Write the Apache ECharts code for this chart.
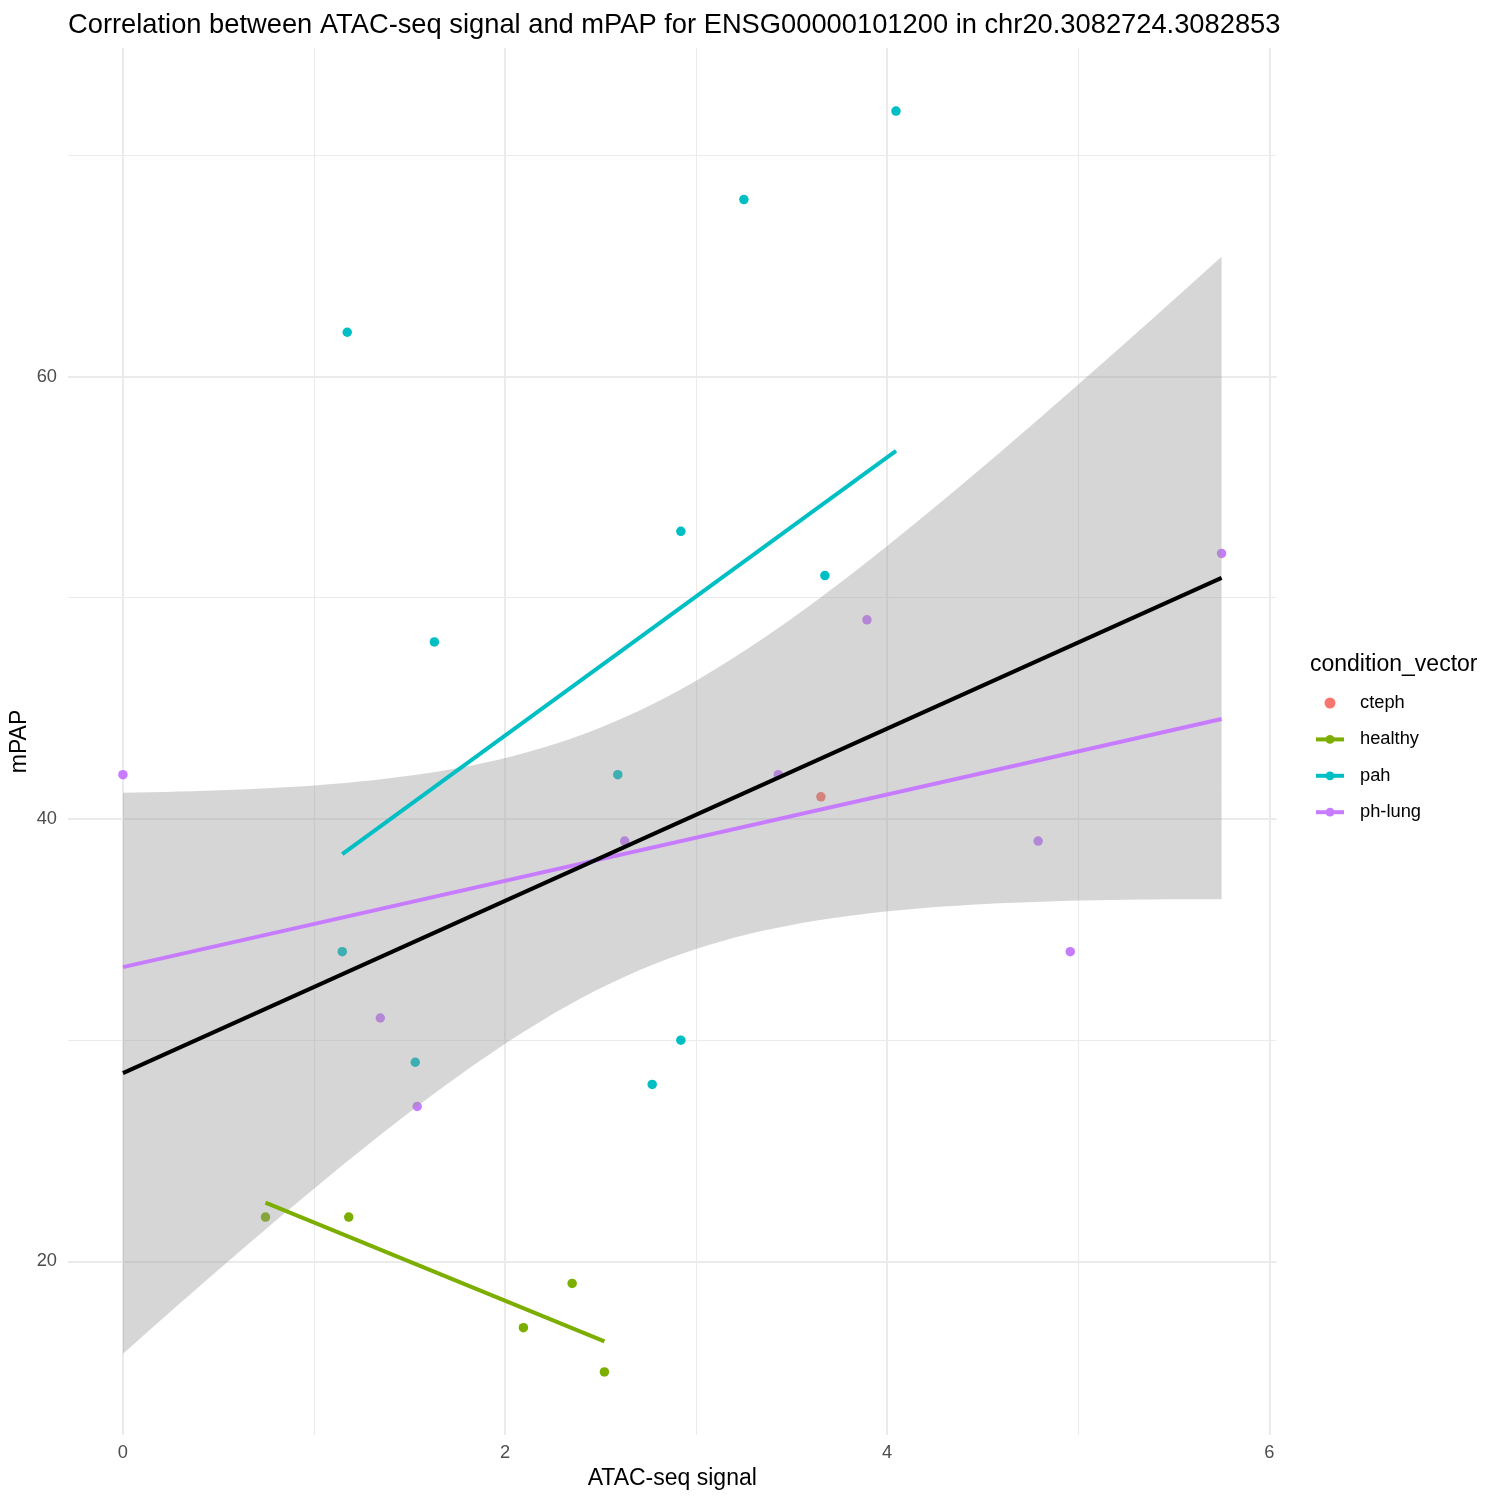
<!DOCTYPE html>
<html>
<head>
<meta charset="utf-8">
<script src="https://cdn.jsdelivr.net/npm/echarts@6/dist/echarts.min.js"></script>
<style>html,body{margin:0;padding:0;background:#fff}#c{width:1500px;height:1500px}</style>
</head>
<body>
<div id="c"></div>
<script>
// ---- data ----
const groupNames = ['cteph', 'healthy', 'pah', 'ph-lung'];
const groupColors = ['#F8766D', '#7CAE00', '#00BFC4', '#C77CFF'];

const ctephX = [3.653];
const ctephY = [41];

const healthyX = [0.746, 1.182, 2.096, 2.351, 2.520];
const healthyY = [22, 22, 17, 19, 15];

const pahX = [1.174, 1.630, 2.920, 3.250, 4.046, 3.674, 2.590, 1.148, 1.530, 2.920, 2.770];
const pahY = [62, 48, 53, 68, 72, 51, 42, 34, 29, 30, 28];

const phLungX = [0, 1.347, 1.540, 2.626, 3.430, 3.894, 4.790, 4.958, 5.750];
const phLungY = [42, 31, 27, 39, 42, 49, 39, 34, 52];

const xTicks = [0, 2, 4, 6];
const yTicks = [20, 40, 60];

const titleText = 'Correlation between ATAC-seq signal and mPAP for ENSG00000101200 in chr20.3082724.3082853';
const xTitle = 'ATAC-seq signal';
const yTitle = 'mPAP';
const legendTitle = 'condition_vector';

// ---- linear fits (geom_smooth(method = "lm")) ----
function fit(xs, ys) {
  const n = xs.length;
  const mx = xs.reduce((a, b) => a + b, 0) / n;
  const my = ys.reduce((a, b) => a + b, 0) / n;
  let sxx = 0, sxy = 0;
  for (let i = 0; i < n; i++) { sxx += (xs[i] - mx) ** 2; sxy += (xs[i] - mx) * (ys[i] - my); }
  const b = sxy / sxx, a = my - b * mx;
  let sse = 0;
  for (let i = 0; i < n; i++) sse += (ys[i] - a - b * xs[i]) ** 2;
  return { n, mx, sxx, a, b, s: Math.sqrt(sse / (n - 2)), min: Math.min(...xs), max: Math.max(...xs) };
}
function lineOf(f) { return [[f.min, f.a + f.b * f.min], [f.max, f.a + f.b * f.max]]; }

const groupX = [ctephX, healthyX, pahX, phLungX];
const groupY = [ctephY, healthyY, pahY, phLungY];
const allX = [].concat(...groupX);
const allY = [].concat(...groupY);
const overall = fit(allX, allY);
const tq = 2.063899; // qt(0.975, df = 24)
const band = [];
for (let i = 0; i < 80; i++) {
  const x = overall.min + (overall.max - overall.min) * i / 79;
  const yh = overall.a + overall.b * x;
  const se = overall.s * Math.sqrt(1 / overall.n + (x - overall.mx) ** 2 / overall.sxx);
  band.push([x, yh - tq * se, yh + tq * se]);
}

const FONT = '"Liberation Sans", Arial, sans-serif';
const xMin = -0.2875, xMax = 6.0375, yMin = 12.15, yMax = 74.85;

const series = [];
// line series first (legend icon = line + point)
for (let g = 1; g < 4; g++) {
  series.push({
    name: groupNames[g], type: 'line', z: 4, symbol: 'circle', symbolSize: 9.5, showSymbol: false, silent: true,
    data: lineOf(fit(groupX[g], groupY[g])),
    lineStyle: { color: groupColors[g], width: 4 }, itemStyle: { color: groupColors[g] },
    emphasis: { disabled: true }
  });
}
for (let g = 0; g < 4; g++) {
  series.push({
    name: groupNames[g], type: 'scatter', z: 2, symbol: 'circle', symbolSize: 9.5, silent: true,
    data: groupX[g].map((x, i) => [x, groupY[g][i]]),
    itemStyle: { color: groupColors[g], opacity: 1 }
  });
}
series.push({
  type: 'custom', z: 3, silent: true, data: band, encode: { x: 0, y: [1, 2] },
  renderItem: (params, api) => {
    if (params.dataIndex !== 0) return null;
    const pts = [];
    band.forEach(p => pts.push(api.coord([p[0], p[2]])));
    band.slice().reverse().forEach(p => pts.push(api.coord([p[0], p[1]])));
    return { type: 'polygon', shape: { points: pts }, style: { fill: 'rgba(153,153,153,0.4)' } };
  }
});
series.push({
  type: 'line', z: 5, showSymbol: false, symbol: 'none', silent: true,
  data: lineOf(overall), lineStyle: { color: '#000', width: 4 }
});

const chart = echarts.init(document.getElementById('c'), null, { renderer: 'canvas' });
chart.setOption({
  animation: false,
  backgroundColor: '#fff',
  textStyle: { fontFamily: FONT },
  title: [
    { text: titleText, left: 68, top: 12, padding: 0, textStyle: { fontSize: 27.3, fontWeight: 'normal', color: '#000', fontFamily: FONT } },
    { text: legendTitle, left: 1310, top: 653, padding: 0, textStyle: { fontSize: 23, fontWeight: 'normal', color: '#000', fontFamily: FONT } }
  ],
  legend: {
    data: groupNames, orient: 'vertical', left: 1314, top: 694, padding: 0,
    itemWidth: 28, itemHeight: 11, itemGap: 18.4,
    lineStyle: { width: 4 },
    textStyle: { fontSize: 18.3, color: '#000', fontFamily: FONT, padding: [0, 0, 0, 11] },
    selectedMode: false
  },
  grid: { left: 68, right: 223.5, top: 48, bottom: 65, containLabel: false, outerBoundsMode: 'none' },
  xAxis: [
    {
      type: 'value', min: xMin, max: xMax, splitNumber: 3,
      name: xTitle, nameLocation: 'middle', nameGap: 30,
      nameTextStyle: { fontSize: 23, color: '#000', fontFamily: FONT },
      axisLine: { show: false }, axisTick: { show: false },
      axisLabel: {
        color: '#4D4D4D', fontSize: 18.3, margin: 9, fontFamily: FONT,
        formatter: v => xTicks.some(t => Math.abs(t - v) < 1e-6) ? String(Math.round(v)) : ''
      },
      splitLine: { show: true, showMinLine: false, showMaxLine: false, lineStyle: { color: '#EBEBEB', width: 2 } }
    },
    {
      type: 'value', min: xMin, max: xMax, splitNumber: 6, position: 'bottom',
      axisLine: { show: false }, axisTick: { show: false }, axisLabel: { show: false },
      splitLine: { show: true, showMinLine: false, showMaxLine: false, lineStyle: { color: '#EBEBEB', width: 1.1 } }
    }
  ],
  yAxis: [
    {
      type: 'value', min: yMin, max: yMax, splitNumber: 3,
      name: yTitle, nameLocation: 'middle', nameGap: 36.5, nameRotate: 90, nameMoveOverlap: false,
      nameTextStyle: { fontSize: 23, color: '#000', fontFamily: FONT },
      axisLine: { show: false }, axisTick: { show: false },
      axisLabel: {
        color: '#4D4D4D', fontSize: 18.3, margin: 11, fontFamily: FONT,
        formatter: v => yTicks.some(t => Math.abs(t - v) < 1e-6) ? String(Math.round(v)) : ''
      },
      splitLine: { show: true, showMinLine: false, showMaxLine: false, lineStyle: { color: '#EBEBEB', width: 2 } }
    },
    {
      type: 'value', min: yMin, max: yMax, splitNumber: 6, position: 'left',
      axisLine: { show: false }, axisTick: { show: false }, axisLabel: { show: false },
      splitLine: { show: true, showMinLine: false, showMaxLine: false, lineStyle: { color: '#EBEBEB', width: 1.1 } }
    }
  ],
  series: series
});
</script>
</body>
</html>
